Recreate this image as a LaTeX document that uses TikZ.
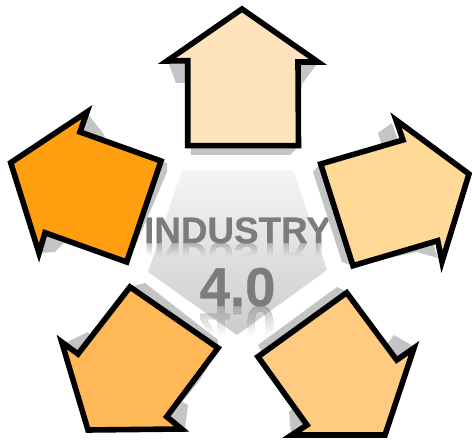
\documentclass[tikz,border=0pt]{standalone}
\usepackage{fontspec}
\setmainfont{Liberation Sans}
\newfontfamily\labelfont[FakeBold=0.5]{Liberation Sans Bold}
\usetikzlibrary{fadings}

\definecolor{shadowgray}{HTML}{C4C4C4}
\definecolor{labelgray}{HTML}{7C7C7C}
\definecolor{topfill}{HTML}{FFE3BC}
\definecolor{leftfill}{HTML}{FF9F0F}
\definecolor{rightfill}{HTML}{FFD996}
\definecolor{lowleftfill}{HTML}{FFB856}
\definecolor{lowrightfill}{HTML}{FFCB80}

\tikzfading[name=mirrorfade, top color=transparent!55, bottom color=transparent!100]

\tikzset{
	arrowbody/.style={draw=black, line width=4.2pt, line join=miter, miter limit=12, fill=#1},
	arrowshadow/.style={fill=shadowgray},
	labeltext/.style={text=labelgray, font=\labelfont\fontsize{#1}{#1}\selectfont, inner sep=0pt, anchor=base},
}

\begin{document}
\begin{tikzpicture}[x=0.75pt,y=-0.75pt]
	\useasboundingbox (0,0) rectangle (472,441);
	
	\def\midx{237.5}
	\def\lineA{243}
	\def\lineB{306}
	
	% centre plate
	\shade[top color=black!4, bottom color=black!20] (182,170) -- (293,170) -- (327,270) -- (237,335) -- (148,272) -- cycle;
	
	\node[labeltext=27.6pt] (industry) at (\midx,\lineA) {INDUSTRY};
	\node[labeltext=41pt] (version) at (\midx,\lineB) {4.0};
	
	\begin{scope}
		\path[scope fading=mirrorfade] (140,\lineA) rectangle (335,\lineA+13);
		\node[labeltext=27.6pt, yscale=-1, transform shape] (industrymirror) at (\midx,\lineA) {INDUSTRY};
	\end{scope}
	\begin{scope}
		\path[scope fading=mirrorfade] (190,\lineB) rectangle (285,\lineB+30);
		\node[labeltext=41pt, yscale=-1, transform shape] (versionmirror) at (\midx,\lineB) {4.0};
	\end{scope}
	
	% shadows
	\fill[arrowshadow] (168,62) -- (176,83) -- (188,83) -- (191,155) -- (290,155) -- (297,148) -- (302,84) -- (317,64) -- cycle;
	\fill[arrowshadow] (87,113) -- (103,133) -- (107,142) -- (161,161) -- (167,163) -- (167,172) -- (128,263) -- (128,258) -- (65,240) -- (65,242) -- (55,252) -- (40,253) -- cycle;
	\fill[arrowshadow] (392,123) -- (378,133) -- (382,146) -- (320,164) -- (313,172) -- (342,262) -- (353,266) -- (417,252) -- (438,258) -- cycle;
	\fill[arrowshadow] (130,287) -- (145,283) -- (218,340) -- (218,348) -- (200,380) -- (182,402) -- (188,405) -- (185,428) -- (170,420) -- (130,340) -- (92,338) -- (88,332) -- (67,342) -- (78,354) -- cycle;
	\fill[arrowshadow] (337,287) -- (347,292) -- (350,330) -- (388,343) -- (394,335) -- (413,346) -- (340,400) -- (291,433) -- (289,412) -- (293,408) -- (258,345) -- cycle;
	
	% arrows
	\path[arrowbody=topfill] (242,9) -- (318,62) -- (298,62) -- (298.5,145.7) -- (187.7,145.7) -- (187.7,60.7) -- (167,61) -- cycle;
	\path[arrowbody=leftfill] (87,112) -- (80,132) -- (161,161) -- (126.7,262) -- (45,232.7) -- (39,253) -- (10.7,162.7) -- cycle;
	\path[arrowbody=rightfill] (396,120) -- (403,140) -- (320.7,164) -- (353,265.7) -- (437.7,240.7) -- (442,261.7) -- (469,174) -- cycle;
	\path[arrowbody=lowleftfill] (130,287) -- (218,348) -- (166.7,416.7) -- (181.7,429) -- (88,430) -- (61.7,342) -- (78,354) -- cycle;
	\path[arrowbody=lowrightfill] (346.7,292.7) -- (396.7,360) -- (414,348) -- (385,435) -- (291.7,435) -- (307,425) -- (258,356.7) -- cycle;
\end{tikzpicture}
\end{document}
